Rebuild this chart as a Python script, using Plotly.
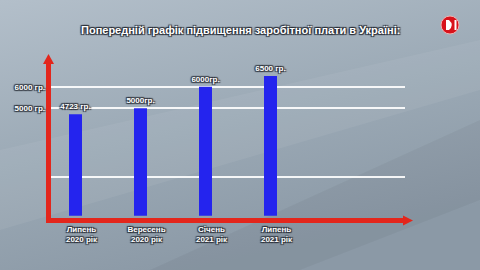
import base64
import plotly.graph_objects as go

# ---- data ----
categories = ["Липень<br>2020 рік", "Вересень<br>2020 рік", "Січень<br>2021 рік", "Липень<br>2021 рік"]
values = [4723, 5000, 6000, 6500]
value_labels = ["4723 гр.", "5000гр.", "6000гр.", "6500 гр."]
ytick_vals = [1800, 5000, 6000]
ytick_text = ["", "5000 гр.", "6000 гр."]
title_text = "Попередній графік підвищення заробітної плати в Україні:"

W, H = 480, 270
L, R, T, B = 48, 405, 55, 219  # plot area in pixels
PXW, PXH = R - L, B - T


def X(px):
    return (px - L) / PXW


def Y(py):
    return (B - py) / PXH


SHADOW = "1px 1px 1px #2a2f38, -1px -1px 1px #2a2f38, 1px -1px 1px #2a2f38, -1px 1px 1px #2a2f38"
FONT = "Liberation Sans, Arial, sans-serif"

# background gradient as svg data uri
svg = f'''<svg xmlns="http://www.w3.org/2000/svg" width="{W}" height="{H}">
<defs><linearGradient id="g" x1="0" y1="0" x2="0.4" y2="1">
<stop offset="0" stop-color="#b3bfca"/><stop offset="0.5" stop-color="#9dabb7"/><stop offset="1" stop-color="#8b99a6"/>
</linearGradient></defs>
<rect width="{W}" height="{H}" fill="url(#g)"/>
<polygon points="0,150 480,40 480,90 0,230" fill="#ffffff" opacity="0.06"/>
<polygon points="150,270 480,120 480,200 300,270" fill="#000000" opacity="0.04"/>
</svg>'''
bg_uri = "data:image/svg+xml;base64," + base64.b64encode(svg.encode()).decode()

fig = go.Figure()
fig.add_trace(go.Bar(
    x=categories, y=values, width=0.2, marker=dict(color="#2424ee", line=dict(width=0)),
    text=value_labels, textposition="outside", cliponaxis=False, constraintext="none",
    textfont=dict(family=FONT, size=8, color="white", weight="bold", shadow=SHADOW),
))

k = 0.0215  # px per unit
y0 = -150
y1 = y0 + PXH / k
x0 = -27.5 / 65
x1 = x0 + PXW / 65

red = "#e3261c"
shapes = [
    # vertical axis + arrow
    dict(type="line", xref="paper", yref="paper", x0=X(48.5), x1=X(48.5), y0=Y(223), y1=Y(62),
         line=dict(color=red, width=5), layer="above"),
    dict(type="path", xref="paper", yref="paper",
         path=f"M {X(43)} {Y(64)} L {X(54)} {Y(64)} L {X(48.5)} {Y(54)} Z",
         fillcolor=red, line=dict(width=0), layer="above"),
    # horizontal axis + arrow
    dict(type="line", xref="paper", yref="paper", x0=X(46), x1=X(404), y0=Y(220.5), y1=Y(220.5),
         line=dict(color=red, width=5), layer="above"),
    dict(type="path", xref="paper", yref="paper",
         path=f"M {X(403)} {Y(215.5)} L {X(403)} {Y(225.5)} L {X(413)} {Y(220.5)} Z",
         fillcolor=red, line=dict(width=0), layer="above"),
    # logo
    dict(type="circle", xref="paper", yref="paper", x0=X(441), x1=X(459), y0=Y(16), y1=Y(34),
         fillcolor="#d8121b", line=dict(color="#f2b0b0", width=1), layer="above"),
    dict(type="path", xref="paper", yref="paper",
         path=f"M {X(446)} {Y(20)} L {X(449)} {Y(20)} Q {X(454.5)} {Y(25)} {X(449)} {Y(30)} L {X(446)} {Y(30)} Z",
         fillcolor="white", line=dict(width=0), layer="above"),
    dict(type="rect", xref="paper", yref="paper", x0=X(454.5), x1=X(456.5), y0=Y(20), y1=Y(30),
         fillcolor="white", line=dict(width=0), layer="above"),
]

fig.update_layout(
    width=W, height=H,
    margin=dict(l=L, r=W - R, t=T, b=H - B),
    paper_bgcolor="#9dabb7", plot_bgcolor="rgba(0,0,0,0)",
    showlegend=False,
    images=[dict(source=bg_uri, xref="paper", yref="paper", x=X(0), y=Y(0), sizex=W / PXW, sizey=H / PXH,
                 xanchor="left", yanchor="top", sizing="stretch", layer="below")],
    shapes=shapes,
    annotations=[dict(text=title_text, xref="paper", yref="paper", x=X(240), y=Y(30), showarrow=False,
                      xanchor="center", yanchor="middle",
                      font=dict(family=FONT, size=11, color="white", weight="bold", shadow=SHADOW))],
    xaxis=dict(range=[x0, x1], showgrid=False, zeroline=False, showline=False, ticks="",
               tickfont=dict(family=FONT, size=8, color="white", weight="bold", shadow=SHADOW),
               ticklabelshift=6, ticklabelstandoff=4),
    yaxis=dict(range=[y0, y1], tickvals=ytick_vals, ticktext=ytick_text, showgrid=True,
               gridcolor="rgba(255,255,255,0.9)", gridwidth=2, zeroline=False, showline=False, ticks="",
               tickfont=dict(family=FONT, size=8, color="white", weight="bold", shadow=SHADOW),
               ticklabelstandoff=2),
)

fig.write_html("out.html")
